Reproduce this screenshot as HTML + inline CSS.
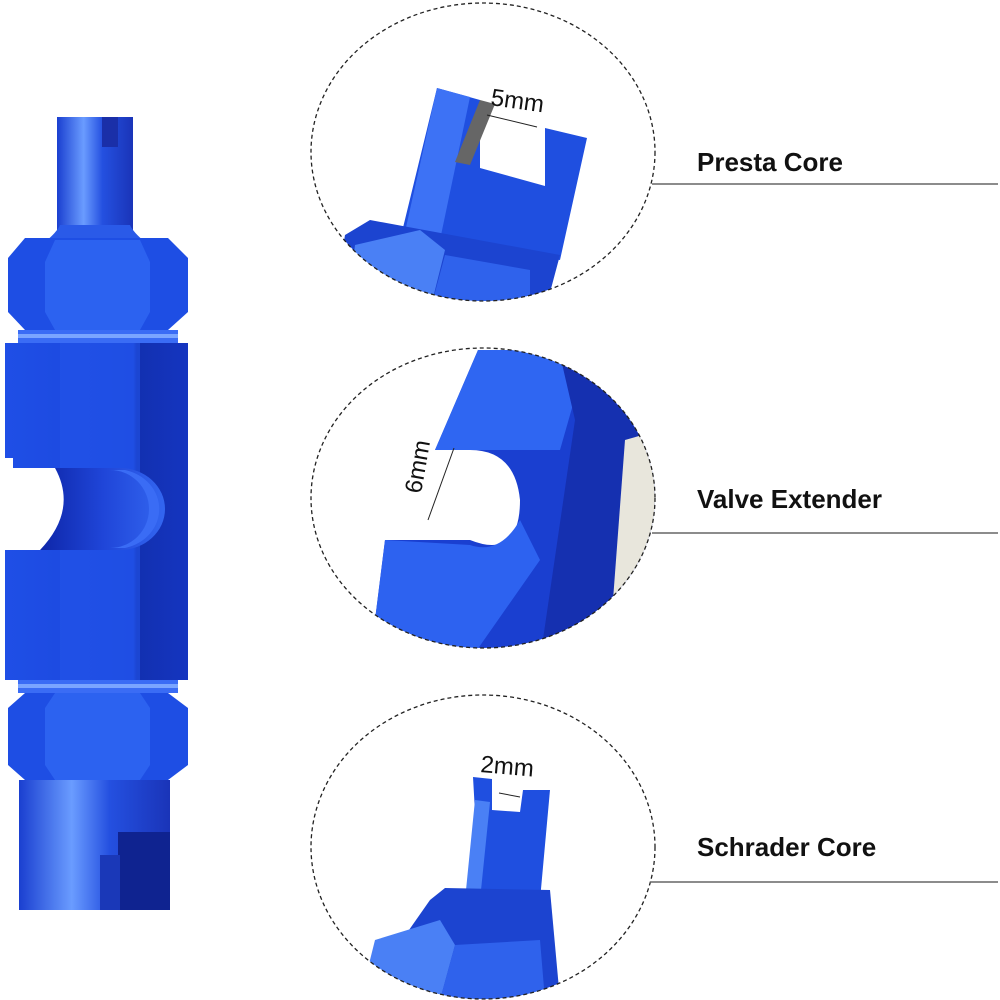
<!DOCTYPE html>
<html><head><meta charset="utf-8"><style>
html,body{margin:0;padding:0;background:#fff;width:1000px;height:1000px;overflow:hidden}
svg{display:block}
text{font-family:"Liberation Sans",sans-serif}
</style></head><body>
<svg width="1000" height="1000" viewBox="0 0 1000 1000" xmlns="http://www.w3.org/2000/svg">
<defs>
<linearGradient id="tube" x1="0" x2="1">
<stop offset="0" stop-color="#1a3fd0"/><stop offset="0.35" stop-color="#6a9cff"/><stop offset="0.6" stop-color="#2450e0"/><stop offset="1" stop-color="#1a34b8"/></linearGradient>
<linearGradient id="body" x1="0" x2="1">
<stop offset="0" stop-color="#1f4fe6"/><stop offset="0.7" stop-color="#1a45dc"/><stop offset="0.72" stop-color="#1230b0"/><stop offset="1" stop-color="#1535c0"/></linearGradient>
<linearGradient id="groove" x1="0" x2="1">
<stop offset="0" stop-color="#0e26a8"/><stop offset="0.5" stop-color="#1f45d8"/><stop offset="1" stop-color="#3366f0"/></linearGradient>
<clipPath id="c1"><ellipse cx="483" cy="152" rx="172" ry="149"/></clipPath>
<clipPath id="c2"><ellipse cx="483" cy="498" rx="172" ry="150"/></clipPath>
<clipPath id="c3"><ellipse cx="483" cy="847" rx="172" ry="152"/></clipPath>
</defs>

<!-- Left tool -->
<rect x="57" y="117" width="76" height="125" fill="url(#tube)"/>
<rect x="102" y="117" width="16" height="30" fill="#1a2fa8"/>
<path d="M45 242 Q57 232 60 225 L130 225 Q133 232 145 242 Z" fill="#2a5ae8"/>
<path d="M8 258 L25 238 L168 238 L188 258 L188 312 L168 330 L25 330 L8 312 Z" fill="#1e4ee4"/>
<path d="M55 240 L140 240 L150 262 L150 312 L140 330 L55 330 L45 312 L45 262 Z" fill="#2c62f0"/>
<rect x="18" y="330" width="160" height="13" fill="#3a6cf5"/>
<rect x="18" y="334" width="160" height="4" fill="#7aa5ff"/>
<path d="M5 343 L188 343 L188 680 L5 680 Z" fill="url(#body)"/>
<rect x="60" y="343" width="80" height="337" fill="#2355ea" opacity="0.6"/>
<!-- groove -->
<path d="M55 468 L120 468 A45 41 0 0 1 120 550 L40 550 Q78 510 55 468 Z" fill="url(#groove)"/>
<path d="M110 470 A38 38 0 0 1 110 548 L125 548 A44 40 0 0 0 125 470 Z" fill="#3a6cf5"/>
<path d="M5 468 L55 468 Q78 510 40 550 L5 550 Z" fill="#fff"/>
<rect x="5" y="458" width="8" height="12" fill="#fff"/>
<rect x="18" y="680" width="160" height="13" fill="#3a6cf5"/>
<rect x="18" y="684" width="160" height="4" fill="#7aa5ff"/>
<path d="M8 708 L25 693 L168 693 L188 708 L188 765 L168 780 L25 780 L8 765 Z" fill="#1e4ee4"/>
<path d="M55 693 L140 693 L150 708 L150 765 L140 780 L55 780 L45 765 L45 708 Z" fill="#2c62f0"/>
<rect x="19" y="780" width="151" height="130" fill="url(#tube)"/>
<rect x="118" y="832" width="52" height="78" fill="#0f2390"/>
<rect x="100" y="855" width="20" height="55" fill="#1a38b8"/>

<!-- Circle 1 -->
<g clip-path="url(#c1)">
<path d="M437 88 L480 100 L480 168 L545 186 L545 128 L587 138 L560 260 L400 240 Z" fill="#1f4fe0"/>
<path d="M437 88 L470 97 L440 240 L405 232 Z" fill="#3d72f5"/>
<path d="M480 100 L495 104 L470 165 L455 162 Z" fill="#666"/>
<path d="M345 235 L370 220 L560 255 L540 330 L330 330 Z" fill="#1c44d0"/>
<path d="M355 245 L420 230 L445 250 L425 330 L345 330 Z" fill="#4a80f5"/>
<path d="M445 255 L530 270 L530 330 L425 330 Z" fill="#2f62ec"/>
</g>
<ellipse cx="483" cy="152" rx="172" ry="149" fill="none" stroke="#222" stroke-width="1.3" stroke-dasharray="4 3"/>
<text x="490" y="105" font-size="24" fill="#111" transform="rotate(8 490 105)">5mm</text>
<line x1="487" y1="115" x2="537" y2="127" stroke="#222" stroke-width="1"/>

<!-- Circle 2 -->
<g clip-path="url(#c2)">
<path d="M478 350 L700 350 L700 660 L370 660 L385 540 L470 540 Q520 560 520 500 Q515 450 470 450 L435 450 Z" fill="#1a3fd0"/>
<path d="M478 350 L560 350 L580 380 L560 450 L470 450 L435 450 Z" fill="#2f66f2"/>
<path d="M385 540 L470 545 Q500 555 520 520 L540 560 L470 660 L370 660 Z" fill="#2d62f0"/>
<path d="M560 355 L640 420 L640 660 L540 660 L575 420 Z" fill="#1530b0"/>
<path d="M625 440 L660 430 L660 640 L610 640 Z" fill="#e8e6dc"/>
</g>
<ellipse cx="483" cy="498" rx="172" ry="150" fill="none" stroke="#222" stroke-width="1.3" stroke-dasharray="4 3"/>
<text x="388" y="505" font-size="24" fill="#111" transform="rotate(-80 398 480)">6mm</text>
<line x1="454" y1="448" x2="428" y2="520" stroke="#222" stroke-width="1"/>

<!-- Circle 3 -->
<g clip-path="url(#c3)">
<path d="M473 777 L492 779 L492 810 L520 812 L523 790 L550 790 L540 900 L480 900 Z" fill="#1f4fe0"/>
<path d="M475 800 L490 802 L480 900 L465 900 Z" fill="#4a80f5"/>
<path d="M430 900 L445 888 L550 890 L560 1000 L360 1000 Z" fill="#1c44d0"/>
<path d="M375 940 L440 920 L455 945 L440 1000 L360 1000 Z" fill="#4a80f5"/>
<path d="M455 945 L540 940 L545 1000 L440 1000 Z" fill="#2f62ec"/>
</g>
<ellipse cx="483" cy="847" rx="172" ry="152" fill="none" stroke="#222" stroke-width="1.3" stroke-dasharray="4 3"/>
<text x="480" y="772" font-size="24" fill="#111" transform="rotate(5 480 772)">2mm</text>
<line x1="499" y1="793" x2="520" y2="797" stroke="#222" stroke-width="1"/>

<!-- Labels -->
<text x="697" y="171" font-size="26" font-weight="bold" fill="#111">Presta Core</text>
<line x1="652" y1="184" x2="998" y2="184" stroke="#666" stroke-width="1.5"/>
<text x="697" y="508" font-size="26" font-weight="bold" fill="#111">Valve Extender</text>
<line x1="652" y1="533" x2="998" y2="533" stroke="#666" stroke-width="1.5"/>
<text x="697" y="856" font-size="26" font-weight="bold" fill="#111">Schrader Core</text>
<line x1="650" y1="882" x2="998" y2="882" stroke="#666" stroke-width="1.5"/>
</svg>
</body></html>
